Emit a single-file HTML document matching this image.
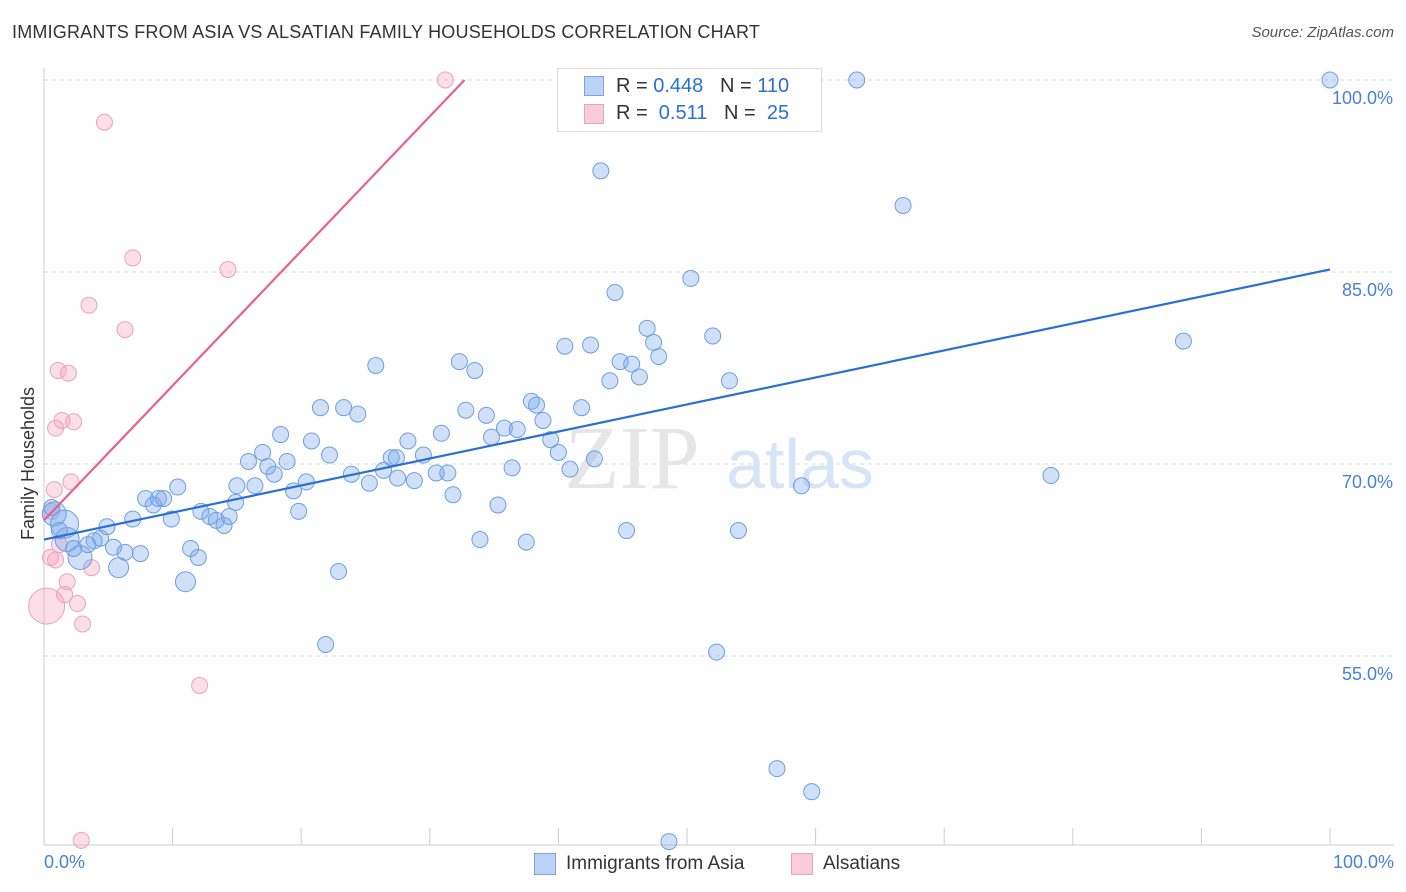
<!DOCTYPE html>
<html><head><meta charset="utf-8">
<style>
body{margin:0;background:#fff;font-family:"Liberation Sans",sans-serif;}
#wrap{position:relative;width:1406px;height:892px;overflow:hidden;}
.t{position:absolute;white-space:nowrap;}
</style></head><body>
<div id="wrap">
<div class="t" style="left:12px;top:22px;font-size:18px;color:#333;letter-spacing:0.2px">IMMIGRANTS FROM ASIA VS ALSATIAN FAMILY HOUSEHOLDS CORRELATION CHART</div>
<div class="t" style="right:12px;top:24px;font-size:15px;color:#555;font-style:italic">Source: ZipAtlas.com</div>
<svg id="svg" width="1406" height="892" style="position:absolute;left:0;top:0"></svg>
</div>
<script>
const blueX=[100,63.2,43.3,66.8,50.3,44.4,88.6,46.9,52.0,40.5,42.5,47.4,47.8,44.8,45.7,44.0,46.3,53.3,25.8,32.3,33.5,21.5,23.3,24.4,32.8,34.4,37.9,38.3,41.8,38.8,35.8,36.8,34.8,30.9,39.4,28.3,18.4,20.8,22.2,15.9,17.0,17.4,18.9,17.9,27.0,27.4,29.5,26.4,23.9,25.3,27.5,28.8,30.5,31.4,31.8,36.4,40.0,40.9,42.8,58.9,78.3,35.3,19.4,20.4,10.4,15.0,16.4,14.9,7.9,8.9,9.3,8.5,9.9,12.2,12.9,13.4,14.0,14.4,19.8,6.9,4.9,4.4,3.9,5.4,6.3,7.5,11.4,12.0,11.0,5.8,2.8,3.4,1.6,0.8,22.9,33.9,37.5,45.3,54.0,21.9,52.3,57.0,59.7,48.6,1.8,0.6,1.2,2.3];
const blueY=[100,100,92.9,90.2,84.5,83.4,79.6,80.6,80.0,79.2,79.3,79.5,78.4,78.0,77.8,76.5,76.8,76.5,77.7,78.0,77.3,74.4,74.4,73.9,74.2,73.8,74.9,74.6,74.4,73.4,72.8,72.7,72.1,72.4,71.9,71.8,72.3,71.8,70.7,70.2,70.9,69.8,70.2,69.2,70.5,70.5,70.7,69.5,69.2,68.5,68.9,68.7,69.3,69.3,67.6,69.7,70.9,69.6,70.4,68.3,69.1,66.8,67.9,68.6,68.2,68.3,68.3,67.0,67.3,67.3,67.3,66.8,65.7,66.3,65.9,65.6,65.2,65.9,66.3,65.7,65.1,64.2,64.0,63.5,63.1,63.0,63.4,62.7,60.8,61.9,62.7,63.7,65.3,66.1,61.6,64.1,63.9,64.8,64.8,55.9,55.3,46.2,44.4,40.5,64.1,66.6,64.8,63.4];
const bigBlue={88:10,89:10,90:12,92:14,93:12,104:12};
const pinkX=[31.2,4.7,6.9,14.3,3.5,6.3,1.1,1.9,1.4,2.3,0.9,2.1,0.8,0.6,0.5,0.9,1.8,1.6,2.6,3.0,0.2,3.7,12.1,2.9,1.2];
const pinkY=[100,96.7,86.1,85.2,82.4,80.5,77.3,77.1,73.4,73.3,72.8,68.6,68.0,66.3,62.7,62.5,60.8,59.8,59.1,57.5,58.9,61.9,52.7,40.6,63.7];
const blueLine=[64.1,85.2];
const pinkLine=[65.6,100];
const yTicks=[100,85,70,55];
const xs=v=>44+v*12.86, ys=v=>80+(100-v)*12.8;
const NS="http://www.w3.org/2000/svg", svg=document.getElementById('svg');
function mk(tag,at){const e=document.createElementNS(NS,tag);for(const k in at)e.setAttribute(k,at[k]);svg.appendChild(e);return e;}
for(const t of yTicks){
 const g=mk('line',{x1:44,x2:1394,y1:ys(t),y2:ys(t),stroke:'#d8d8d8','stroke-dasharray':'4,4'});
 
 
 const l=mk('text',{x:1393,y:ys(t)+24,'text-anchor':'end','font-size':18,fill:'#4a80d8','font-family':'Liberation Sans'});
 l.textContent=t.toFixed(1)+'%';
 
 
}
let a=mk('line',{x1:44,x2:44,y1:68,y2:845,stroke:'#ccc'});


a=mk('line',{x1:44,x2:1394,y1:845,y2:845,stroke:'#ccc'});


for(let i=0;i<=10;i++){const tk=mk('line',{x1:xs(i*10),x2:xs(i*10),y1:828,y2:845,stroke:'#ccc'});
 
 }
// watermark
let w=mk('text',{x:632,y:488,'text-anchor':'middle','font-size':90,fill:'#e6e6e6','font-family':'Liberation Serif'});w.textContent='ZIP';


w=mk('text',{x:800,y:488,'text-anchor':'middle','font-size':70,fill:'#d6e4f6','font-family':'Liberation Sans'});w.textContent='atlas';


for(let i=0;i<pinkX.length;i++){const c=mk('circle',{cx:xs(pinkX[i]),cy:ys(pinkY[i]),r:i==20?18:8,fill:'rgba(244,160,188,0.35)',stroke:'#eca2bc','stroke-width':1});
 
 }
for(let i=0;i<blueX.length;i++){const c=mk('circle',{cx:xs(blueX[i]),cy:ys(blueY[i]),r:bigBlue[i]||8,fill:'rgba(120,165,235,0.35)',stroke:'#6d9fe0','stroke-width':1});
 
 }
let ln=mk('line',{x1:xs(0),y1:ys(blueLine[0]),x2:xs(100),y2:ys(blueLine[1]),stroke:'#2a6fd6','stroke-width':2.2});


ln=mk('line',{x1:xs(0),y1:ys(pinkLine[0]),x2:xs(32.7),y2:ys(pinkLine[1]),stroke:'#e8608f','stroke-width':2.2});


</script>
<div class="t" style="left:44px;top:852px;font-size:18px;color:#4a80d8">0.0%</div>
<div class="t" style="right:12px;top:852px;font-size:18px;color:#4a80d8">100.0%</div>
<div class="t" style="left:18px;top:540px;font-size:18px;color:#333;transform:rotate(-90deg);transform-origin:0 0">Family Households</div>
<div style="position:absolute;left:557px;top:68px;width:263px;height:62px;border:1px solid #ddd;background:#fff;font-size:20px">
 <div style="position:absolute;left:26px;top:7px;width:18px;height:18px;background:#bcd3f5;border:1px solid #7aa5e3"></div>
 <div class="t" style="left:58px;top:6px;color:#333">R = <span style="color:#2a6fd6">0.448</span>&nbsp;&nbsp;&nbsp;N = <span style="color:#2a6fd6">110</span></div>
 <div style="position:absolute;left:26px;top:35px;width:18px;height:18px;background:#f9ccdb;border:1px solid #eca2bc"></div>
 <div class="t" style="left:58px;top:33px;color:#333">R = &nbsp;<span style="color:#2a6fd6">0.511</span>&nbsp;&nbsp;&nbsp;N = &nbsp;<span style="color:#2a6fd6">25</span></div>
</div>
<div style="position:absolute;left:534px;top:853px;width:20px;height:20px;background:#bcd3f5;border:1px solid #7aa5e3"></div>
<div class="t" style="left:566px;top:853px;font-size:19px;color:#333">Immigrants from Asia</div>
<div style="position:absolute;left:791px;top:853px;width:20px;height:20px;background:#f9ccdb;border:1px solid #eca2bc"></div>
<div class="t" style="left:823px;top:853px;font-size:19px;color:#333">Alsatians</div>
</body></html>
